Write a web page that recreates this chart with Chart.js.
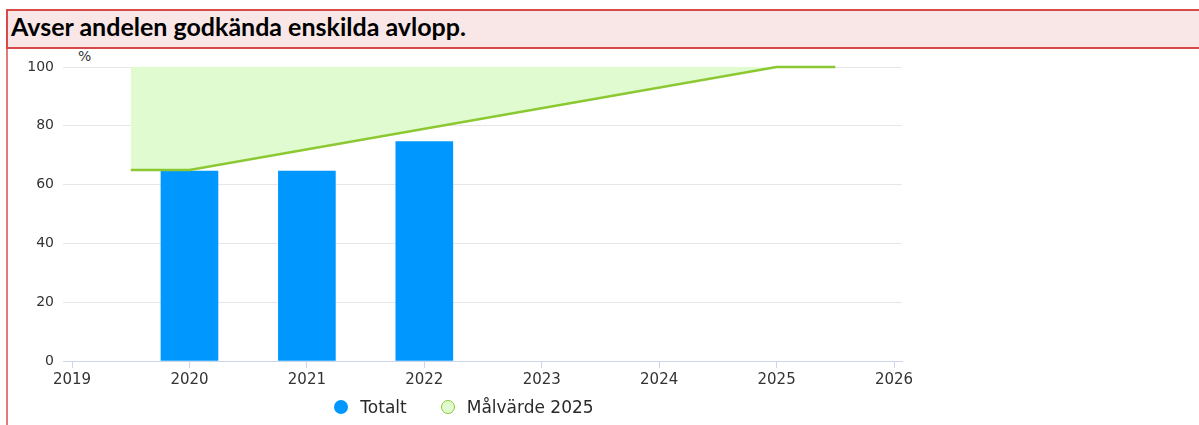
<!DOCTYPE html>
<html lang="sv">
<head>
<meta charset="utf-8">
<title>Avser andelen godkända enskilda avlopp.</title>
<script src="https://cdn.jsdelivr.net/npm/chart.js@4"></script>
<style>
  html, body { margin: 0; padding: 0; background: #fff; overflow: hidden; }
  body { width: 1199px; height: 425px; position: relative; }
  #frame { position: absolute; left: 6px; top: 9px; width: 2px; height: 420px; background: #e27a7a; }
  #title {
    position: absolute; left: 6px; top: 9px; width: 1200px; height: 36px;
    background: #f9e6e6; border-top: 2px solid #d84a4a; border-bottom: 2px solid #d84a4a;
    border-left: 2px solid #d84a4a;
    font: bold 25px Lato, "Open Sans", sans-serif; color: #000;
    line-height: 31px; padding-left: 3px; box-sizing: content-box;
  }
  #unit { position: absolute; left: 78px; top: 48px; font: 14px "DejaVu Sans", sans-serif; color: #333; }
  #wrap { position: absolute; left: 0; top: 48px; width: 920px; height: 377px; }
  #legend {
    position: absolute; left: 0; top: 397px; width: 928px;
    display: flex; justify-content: center; gap: 34px;
    font: 17px "DejaVu Sans", sans-serif; color: #2a2a2a;
  }
  #legend .item { display: flex; align-items: center; gap: 12px; line-height: 20px; }
  #legend .dot { width: 14px; height: 14px; border-radius: 50%; box-sizing: border-box; }
</style>
</head>
<body>
<div id="frame"></div>
<div id="title">Avser andelen godkända enskilda avlopp.</div>
<div id="unit">%</div>
<div id="wrap"><canvas id="chart"></canvas></div>
<div id="legend"></div>
<script>
// Data
const totalYears = [2020, 2021, 2022];
const totalValues = [64.6, 64.6, 74.6];

const targetYears = [2019.5, 2020, 2025, 2025.5];
const targetValues = [65, 65, 100, 100];

const xTickYears = [2019, 2020, 2021, 2022, 2023, 2024, 2025, 2026];
const yTickValues = [0, 20, 40, 60, 80, 100];

const seriesNames = ["Totalt", "Målvärde 2025"];

// axis range (small padding around 2019-2026 like the original)
const xAxisMin = 2018.923;
const xAxisMax = 2026.068;

const font = '"DejaVu Sans", sans-serif';

const totalData = totalYears.map((year, i) => ({ x: year, y: totalValues[i] }));
const targetData = targetYears.map((year, i) => ({ x: year, y: targetValues[i] }));

const chartCanvas = document.querySelector('#chart');
const legendDiv = document.querySelector('#legend');

let chart = new Chart(chartCanvas, {
    type: 'bar',
    data: {
        datasets: [{
            label: seriesNames[0],
            data: totalData,
            backgroundColor: '#0098fe',
            borderColor: '#0098fe',
            borderWidth: 0,
            barThickness: 57
        }, {
            type: 'line',
            label: seriesNames[1],
            data: targetData,
            borderColor: '#8cc832',
            borderWidth: 2.5,
            backgroundColor: '#e1fbd0',
            fill: 'end',
            pointRadius: 0,
            tension: 0,
            clip: 3,
            order: -1
        }]
    },
    options: {
        responsive: true,
        maintainAspectRatio: false,
        animation: false,
        layout: {
            padding: { left: 26, right: 18, top: 19, bottom: 34 }
        },
        scales: {
            x: {
                type: 'linear',
                offset: false,
                min: xAxisMin,
                max: xAxisMax,
                afterBuildTicks: axis => {
                    axis.ticks = xTickYears.map(v => ({ value: v }));
                },
                afterFit: axis => {
                    axis.height = 30;
                },
                grid: {
                    offset: false,
                    drawOnChartArea: false,
                    drawTicks: true,
                    tickLength: 7,
                    color: '#ccd6eb'
                },
                border: { color: '#ccd6eb', width: 1 },
                ticks: {
                    autoSkip: false,
                    maxRotation: 0,
                    padding: 3,
                    color: '#333',
                    font: { family: font, size: 15 },
                    callback: value => String(value)
                }
            },
            y: {
                min: 0,
                max: 100,
                afterBuildTicks: axis => {
                    axis.ticks = yTickValues.map(v => ({ value: v }));
                },
                afterFit: axis => {
                    axis.width = 37;
                },
                grid: {
                    color: '#e6e6e6',
                    drawTicks: false
                },
                border: { display: false },
                ticks: {
                    padding: 9,
                    color: '#333',
                    font: { family: font, size: 14 }
                }
            }
        },
        plugins: {
            legend: { display: false },
            tooltip: { enabled: false }
        }
    }
});

// HTML legend built from the chart's datasets
chart.data.datasets.forEach(ds => {
    const item = document.createElement('div');
    item.className = 'item';
    const dot = document.createElement('span');
    dot.className = 'dot';
    dot.style.background = ds.backgroundColor;
    if (ds.type === 'line') {
        dot.style.border = '1.5px solid ' + ds.borderColor;
    }
    const label = document.createElement('span');
    label.textContent = ds.label;
    item.appendChild(dot);
    item.appendChild(label);
    legendDiv.appendChild(item);
});
</script>
</body>
</html>
